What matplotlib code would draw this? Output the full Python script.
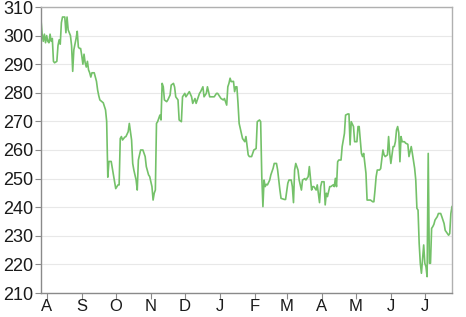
import matplotlib
matplotlib.use("Agg")
import matplotlib.pyplot as plt
import matplotlib.dates as mdates
import pandas as pd

start_date = "2014-07-27"
day_offsets = [0, 1, 2, 3, 4, 5, 6, 7, 8, 9, 10, 11, 12, 14, 15, 16, 17, 18, 19, 21,
               22, 23, 24, 26, 27, 28, 29, 31, 32, 33, 34, 35, 36, 37, 38, 39, 40, 41, 42, 43,
               44, 45, 47, 49, 50, 51, 52, 55, 57, 58, 59, 60, 62, 64, 66, 68, 69, 70, 71, 72,
               74, 75, 77, 78, 80, 81, 82, 84, 85, 86, 88, 90, 92, 93, 95, 96, 98, 99, 100, 101,
               102, 103, 105, 106, 107, 108, 109, 111, 112, 114, 115, 117, 118, 119, 121, 122, 124, 125, 127, 128,
               130, 131, 133, 134, 136, 137, 139, 140, 141, 143, 144, 146, 147, 149, 150, 153, 155, 156, 158, 159,
               161, 162, 164, 165, 166, 167, 168, 170, 171, 172, 173, 174, 175, 177, 178, 180, 181, 183, 184, 186,
               188, 190, 191, 193, 194, 195, 196, 197, 198, 199, 200, 202, 203, 205, 206, 208, 209, 211, 212, 215,
               216, 218, 219, 221, 222, 223, 224, 225, 227, 228, 230, 231, 233, 234, 236, 237, 239, 240, 241, 243,
               244, 246, 247, 248, 250, 251, 252, 253, 255, 256, 258, 259, 260, 261, 262, 263, 265, 266, 268, 269,
               271, 272, 273, 274, 276, 277, 278, 279, 280, 281, 283, 284, 285, 287, 288, 291, 293, 294, 295, 296,
               297, 299, 300, 302, 303, 304, 306, 307, 308, 309, 311, 312, 313, 314, 315, 316, 317, 318, 319, 321,
               322, 324, 325, 327, 328, 330, 331, 332, 333, 334, 335, 336, 338, 339, 340, 341, 342, 343, 344, 345,
               346, 347, 348, 350, 351, 353, 354, 356, 357, 359, 360, 361, 362, 363]
prices = [305.5, 300.5, 298.0, 300.5, 297.5, 300.0, 298.0, 297.5, 300.5, 298.0, 299.0, 291.0, 290.5, 291.0, 296.5, 298.5, 297.0, 304.5, 306.5, 306.5,
          301.0, 306.5, 302.0, 300.0, 296.5, 287.5, 295.0, 299.0, 301.5, 296.0, 295.5, 295.5, 293.0, 290.0, 293.5, 290.5, 289.0, 291.0, 288.0, 287.0,
          285.5, 287.0, 287.0, 284.0, 281.0, 279.0, 277.5, 276.5, 274.0, 270.0, 250.5, 256.0, 256.0, 251.3, 246.5, 247.8, 247.8, 264.0, 264.7, 263.5,
          264.5, 264.7, 266.4, 269.3, 263.5, 255.3, 253.0, 249.5, 246.0, 256.5, 260.0, 260.0, 257.7, 254.2, 251.3, 250.7, 247.2, 242.5, 244.9, 246.0,
          269.3, 269.9, 272.2, 270.5, 283.3, 282.1, 277.5, 276.9, 277.5, 279.2, 282.7, 283.3, 282.0, 278.6, 277.5, 270.5, 269.9, 278.6, 279.8, 278.6,
          279.8, 280.4, 278.6, 276.3, 278.0, 276.3, 278.6, 279.8, 280.4, 282.1, 278.6, 279.8, 282.1, 278.6, 278.6, 278.6, 279.8, 279.8, 278.6, 278.0,
          277.5, 278.0, 275.7, 282.1, 283.3, 285.1, 283.9, 284.0, 280.4, 282.1, 282.1, 276.3, 269.3, 265.8, 264.0, 262.9, 264.7, 258.3, 257.7, 257.7,
          260.0, 260.5, 269.9, 270.5, 269.9, 250.7, 240.2, 249.5, 247.2, 248.0, 247.8, 249.5, 251.3, 253.6, 255.3, 255.3, 253.0, 246.0, 243.1, 242.7,
          242.7, 248.4, 249.5, 249.5, 247.2, 241.6, 253.0, 255.3, 253.0, 249.5, 246.0, 249.5, 250.0, 249.5, 250.7, 254.2, 246.0, 247.2, 247.2, 246.0,
          247.8, 241.6, 247.2, 248.9, 248.9, 240.8, 244.9, 243.7, 247.2, 247.2, 247.8, 247.2, 250.1, 247.2, 255.9, 256.5, 256.5, 261.2, 265.8, 272.2,
          272.6, 272.6, 261.8, 269.9, 268.2, 262.9, 262.9, 262.9, 268.2, 268.2, 258.8, 257.7, 258.8, 251.9, 242.5, 242.5, 241.9, 241.9, 246.0, 250.7,
          253.0, 253.0, 253.5, 260.0, 258.3, 257.7, 258.3, 264.7, 258.8, 255.3, 261.2, 261.2, 262.9, 267.0, 268.2, 266.0, 255.9, 264.7, 262.9, 262.9,
          262.4, 262.0, 257.7, 261.2, 258.8, 253.6, 249.5, 239.6, 239.0, 227.4, 220.4, 216.9, 226.8, 220.4, 219.2, 215.7, 258.8, 220.4, 220.4, 232.6,
          233.2, 234.0, 235.5, 236.7, 237.8, 237.8, 236.7, 234.3, 231.9, 230.8, 230.2, 230.8, 237.8, 240.2]

y_ticks = [210, 220, 230, 240, 250, 260, 270, 280, 290, 300, 310]

dates = pd.to_datetime(start_date) + pd.to_timedelta(day_offsets, unit="D")

plt.rcParams['font.family'] = ['Liberation Sans', 'DejaVu Sans']

fig = plt.figure(figsize=(4.66, 3.17), dpi=100)
ax = fig.add_axes([41 / 466, 24 / 317, 411 / 466, 286 / 317])

ax.plot(dates, prices, color="#74c169", linewidth=1.2)

ax.set_ylim(210, 310)
ax.set_yticks(y_ticks)
ax.set_xlim(dates[0], dates[-1])
ax.xaxis.set_major_locator(mdates.MonthLocator())
ax.xaxis.set_major_formatter(mdates.DateFormatter("%b"))
fig.canvas.draw()
ax.set_xticklabels([lbl.get_text()[0] for lbl in ax.get_xticklabels()])

ax.grid(axis="y", color="#e8e8e8", linewidth=0.8)
ax.set_axisbelow(True)
for side in ["top", "right"]:
    ax.spines[side].set_color("#b0b0b0")
    ax.spines[side].set_linewidth(1.0)
for side in ["left", "bottom"]:
    ax.spines[side].set_color("#8a8a8a")
    ax.spines[side].set_linewidth(1.0)

ax.tick_params(axis="y", length=4, width=0.8, color="#8a8a8a", pad=1.5,
               labelsize=13, labelcolor="#1a1a1a")
ax.tick_params(axis="x", length=4, width=0.8, color="#8a8a8a", pad=0.5,
               labelsize=12, labelcolor="#1a1a1a")

fig.savefig("out.png", dpi=100)
